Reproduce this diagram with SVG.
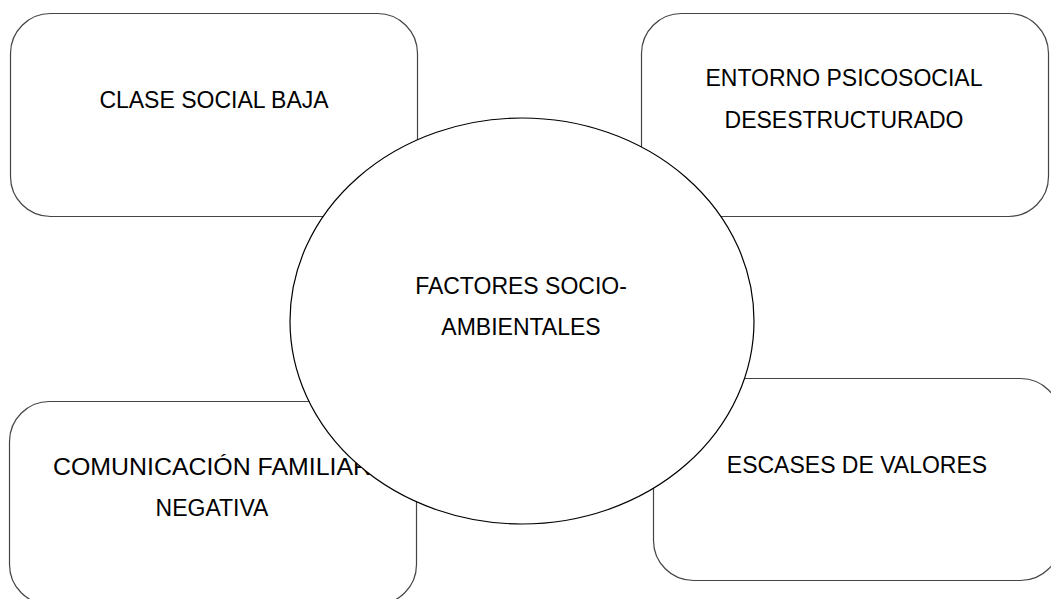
<svg xmlns="http://www.w3.org/2000/svg" width="1051" height="599" viewBox="0 0 1051 599">
<style>
.box{fill:#fff;stroke:#444;stroke-width:1.2}
.ell{fill:#fff;stroke:#000;stroke-width:1.2}
text{font-family:"Liberation Sans",Arial,sans-serif;font-size:23px;fill:#000;text-anchor:middle}
</style>
<rect width="1051" height="599" fill="#fff"/>
<g id="connectors"></g>
<g id="n-clase">
<rect class="box" x="10.5" y="13.5" width="407" height="203" rx="40" ry="40"/>
<text x="214" y="108">CLASE SOCIAL BAJA</text>
</g>
<g id="n-entorno">
<rect class="box" x="641.5" y="13.5" width="407" height="203" rx="40" ry="40"/>
<text x="844" y="86">ENTORNO PSICOSOCIAL</text>
<text x="844" y="128">DESESTRUCTURADO</text>
</g>
<g id="n-comunicacion">
<rect class="box" x="9.5" y="401.5" width="407" height="203" rx="40" ry="40"/>
<text x="212" y="475" textLength="318" lengthAdjust="spacingAndGlyphs">COMUNICACIÓN FAMILIAR</text>
<text x="212" y="516">NEGATIVA</text>
</g>
<g id="n-escases">
<rect class="box" x="653.5" y="378.5" width="407" height="202" rx="40" ry="40"/>
<text x="857" y="473">ESCASES DE VALORES</text>
</g>
<g id="n-factores">
<ellipse class="ell" cx="522" cy="321" rx="232" ry="203"/>
<text x="521" y="294">FACTORES SOCIO-</text>
<text x="521" y="335">AMBIENTALES</text>
</g>
</svg>
